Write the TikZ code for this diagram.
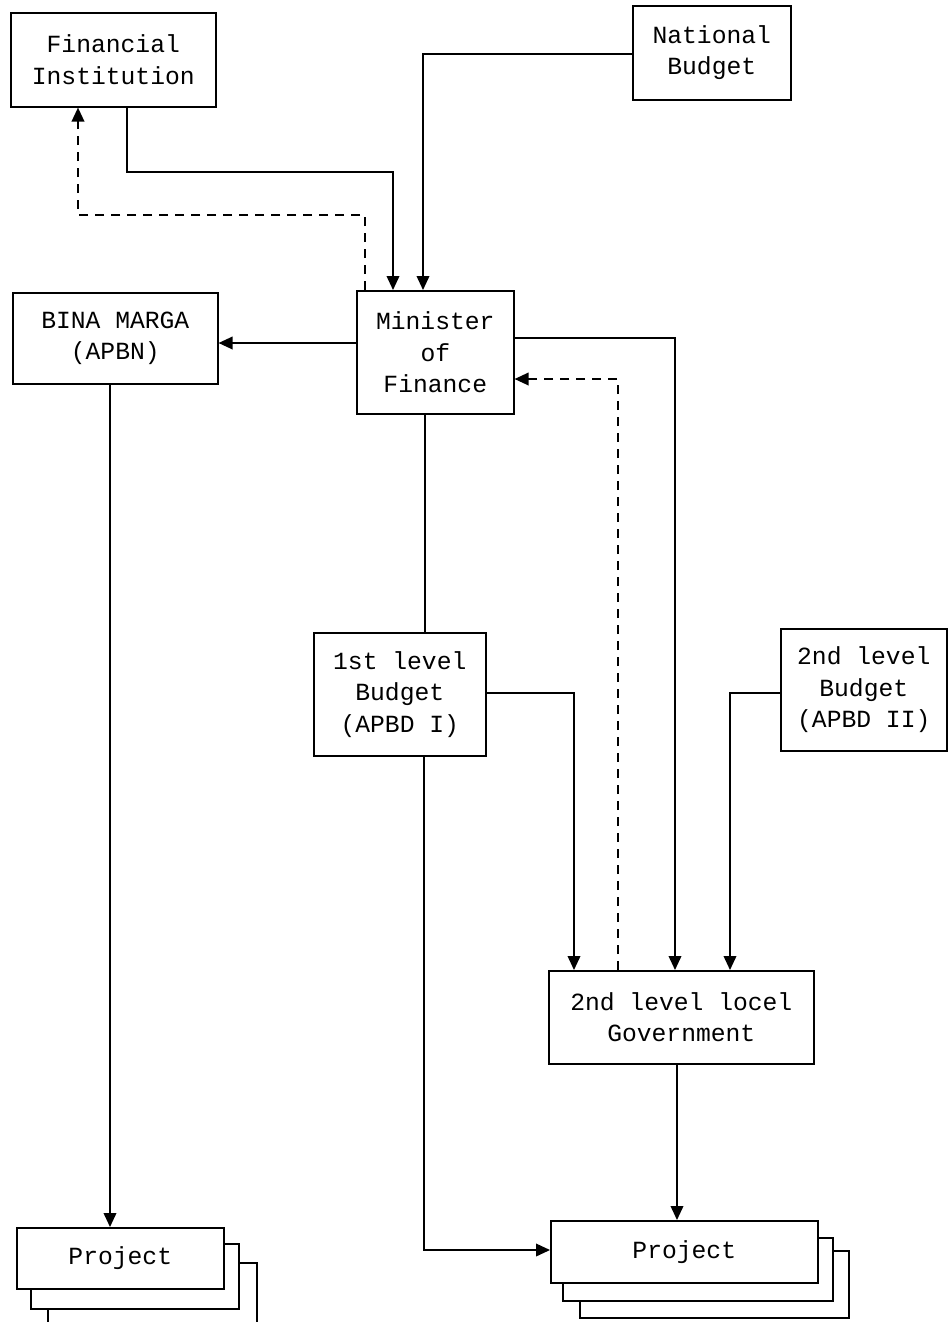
\documentclass[tikz,border=0pt]{standalone}
\usepackage{fontspec}
\setmonofont{Liberation Mono}
\usetikzlibrary{arrows.meta}
\begin{document}
\begin{tikzpicture}[x=0.75pt,y=-0.75pt,
  box/.style={draw, line width=1.2pt, anchor=north west, inner sep=0pt, align=center, fill=white,
    font=\ttfamily\fontsize{18.5}{23.5}\selectfont},
  link/.style={line width=1.2pt},
  arr/.style={line width=1.2pt, -{Triangle[length=10.5pt,width=9.5pt]}},
  darr/.style={line width=1.2pt, dash pattern=on 7pt off 5pt, -{Triangle[length=10.5pt,width=9.5pt]}}]
\useasboundingbox[fill=white] (0,0) rectangle (948,1322);

% boxes
\node[box, minimum width=153.75pt, minimum height=70.5pt] (fi) at (10,12) {Financial\\Institution};
\node[box, minimum width=118.5pt, minimum height=70.5pt] (nb) at (632,5) {National\\Budget};
\node[box, minimum width=117.75pt, minimum height=92.25pt] (mof) at (356,290) {Minister\\of\\Finance};
\node[box, minimum width=153.75pt, minimum height=68.25pt] (bm) at (12,292) {BINA MARGA\\(APBN)};
\node[box, minimum width=129pt, minimum height=92.25pt] (la) at (313,632) {1st level\\Budget\\(APBD I)};
\node[box, minimum width=124.5pt, minimum height=91.5pt] (lb) at (780,628) {2nd level\\Budget\\(APBD II)};
\node[box, minimum width=198.75pt, minimum height=69.75pt] (gov) at (548,970) {2nd level locel\\Government};

% project stacks (left)
\draw[link] (48,1330) -- (48,1263) -- (257,1263) -- (257,1330);
\node[box, minimum width=156pt, minimum height=48.75pt] (pl2) at (30,1243) {};
\node[box, minimum width=155.25pt, minimum height=45.75pt] (pl) at (16,1227) {Project};
% project stacks (right)
\node[box, minimum width=201.75pt, minimum height=50.25pt] (pr3) at (579,1250) {};
\node[box, minimum width=202.5pt, minimum height=47.25pt] (pr2) at (562,1237) {};
\node[box, minimum width=200.25pt, minimum height=46.5pt] (pr) at (550,1220) {Project};

% junction coordinates
\coordinate (j1) at (127,172);
\coordinate (j2) at (393,172);
\coordinate (j3) at (423,54);
\coordinate (j4) at (365,215);
\coordinate (j5) at (78,215);
\coordinate (j6) at (0,343);
\coordinate (j7) at (110,0);
\coordinate (j8) at (425,0);
\coordinate (j9) at (675,338);
\coordinate (j10) at (618,379);
\coordinate (j11) at (574,693);
\coordinate (j12) at (730,693);
\coordinate (j13) at (424,1250);
\coordinate (j14) at (677,0);

% connectors
\draw[arr] (fi.south -| j1) -- (j1) -- (j2) -- (mof.north -| j2);
\draw[arr] (nb.west |- j3) -- (j3) -- (mof.north -| j3);
\draw[darr] (mof.north -| j4) -- (j4) -- (j5) -- (fi.south -| j5);
\draw[arr] (mof.west |- j6) -- (bm.east |- j6);
\draw[arr] (bm.south -| j7) -- (pl.north -| j7);
\draw[link] (mof.south -| j8) -- (la.north -| j8);
\draw[arr] (mof.east |- j9) -- (j9) -- (gov.north -| j9);
\draw[darr] (gov.north -| j10) -- (j10) -- (mof.east |- j10);
\draw[arr] (la.east |- j11) -- (j11) -- (gov.north -| j11);
\draw[arr] (lb.west |- j12) -- (j12) -- (gov.north -| j12);
\draw[arr] (la.south -| j13) -- (j13) -- (pr.west |- j13);
\draw[arr] (gov.south -| j14) -- (pr.north -| j14);
\end{tikzpicture}
\end{document}
